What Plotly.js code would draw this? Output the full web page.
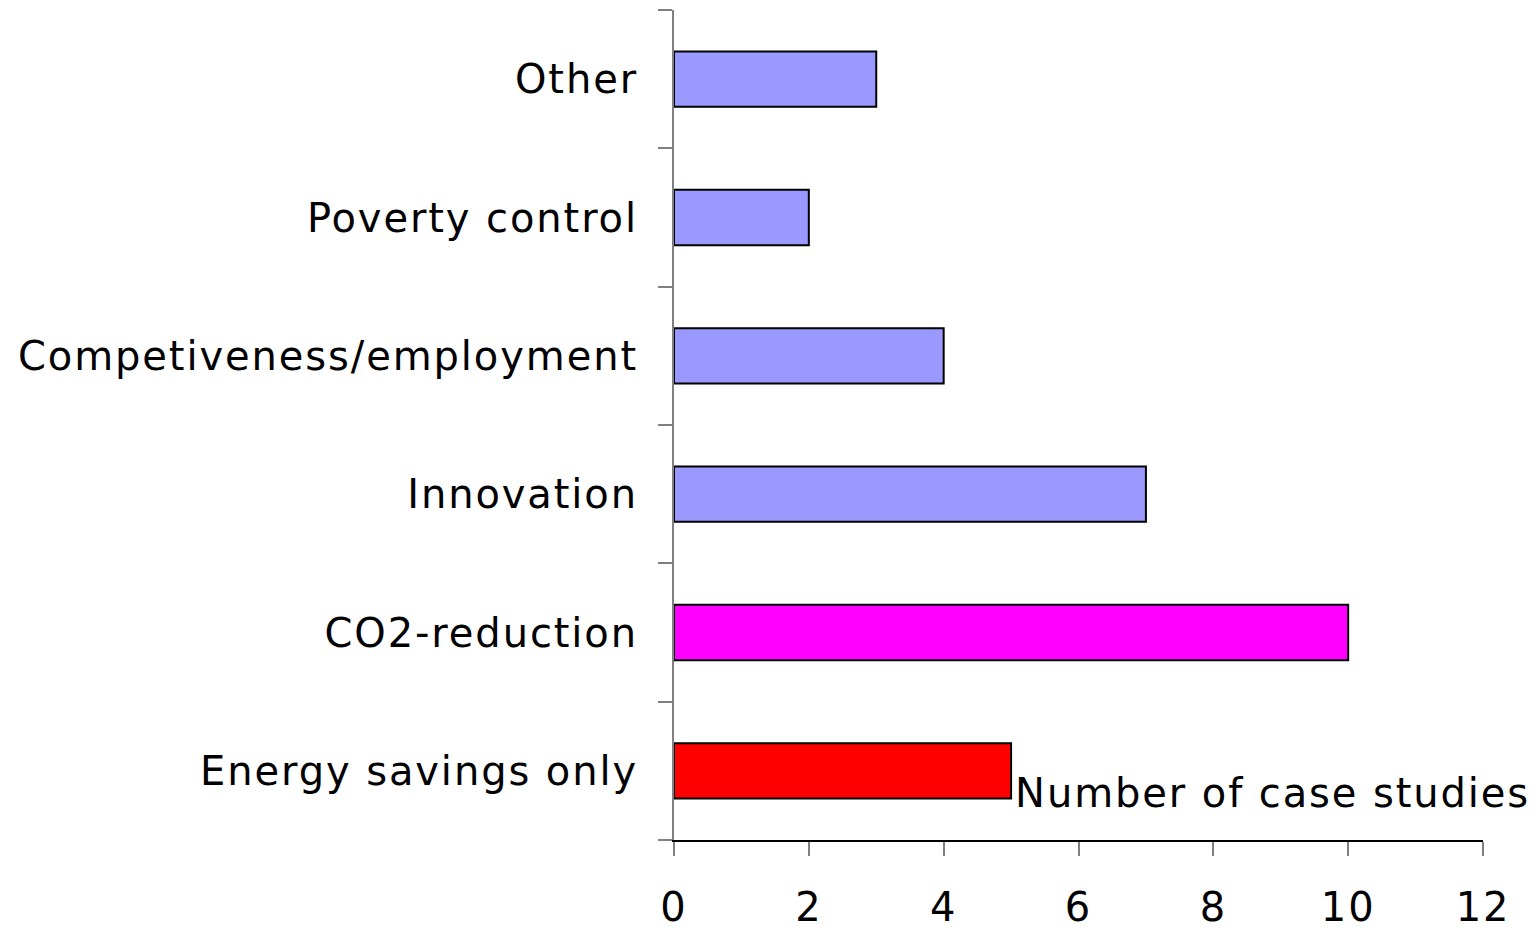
<!DOCTYPE html>
<html>
<head>
<meta charset="utf-8">
<script src="https://cdn.plot.ly/plotly-3.0.1.min.js"></script>
<style>
html,body{margin:0;padding:0;background:#fff;}
#chart{width:1536px;height:927px;}
#chart svg text{letter-spacing:1.9px;}
</style>
</head>
<body>
<div id="chart"></div>
<script>
const categories = ["Energy savings only", "CO2-reduction", "Innovation", "Competiveness/employment", "Poverty control", "Other"];
const values = [5, 10, 7, 4, 2, 3];
const barColors = ["#FF0000", "#FF00FF", "#9999FF", "#9999FF", "#9999FF", "#9999FF"];
const xTicks = [0, 2, 4, 6, 8, 10, 12];
const xLabel = "Number of case studies";

const trace = {
  type: "bar",
  orientation: "h",
  y: categories,
  x: values,
  marker: {color: barColors, line: {color: "#000000", width: 2}},
  hoverinfo: "x+y"
};

const layout = {
  width: 1536, height: 927,
  margin: {l: 674, r: 53, t: 10, b: 87, pad: 0},
  paper_bgcolor: "#ffffff", plot_bgcolor: "#ffffff",
  font: {family: "DejaVu Sans, Verdana, sans-serif", size: 40, color: "#000000"},
  showlegend: false,
  bargap: 0.6,
  xaxis: {
    range: [0, 12], tickvals: xTicks, ticktext: xTicks.map(String),
    showgrid: false, zeroline: false,
    showline: true, linecolor: "#000000", linewidth: 2,
    ticks: "outside", ticklen: 14, tickwidth: 2, tickcolor: "#808080",
    ticklabelstandoff: 17,
    tickfont: {size: 40}
  },
  yaxis: {
    type: "category", range: [-0.5, 5.5],
    tickson: "boundaries",
    showgrid: false, zeroline: false,
    showline: true, linecolor: "#808080", linewidth: 2,
    ticks: "outside", ticklen: 14, tickwidth: 2, tickcolor: "#808080",
    ticklabelstandoff: 26,
    tickfont: {size: 40}
  },
  annotations: [{
    text: xLabel, xref: "paper", yref: "paper",
    x: (1034 - 674) / 809, y: (840 - 793) / 830,
    xanchor: "left", yanchor: "middle", showarrow: false,
    font: {size: 40, color: "#000000"}
  }]
};

Plotly.newPlot("chart", [trace], layout, {displayModeBar: false, staticPlot: true});
</script>
</body>
</html>
